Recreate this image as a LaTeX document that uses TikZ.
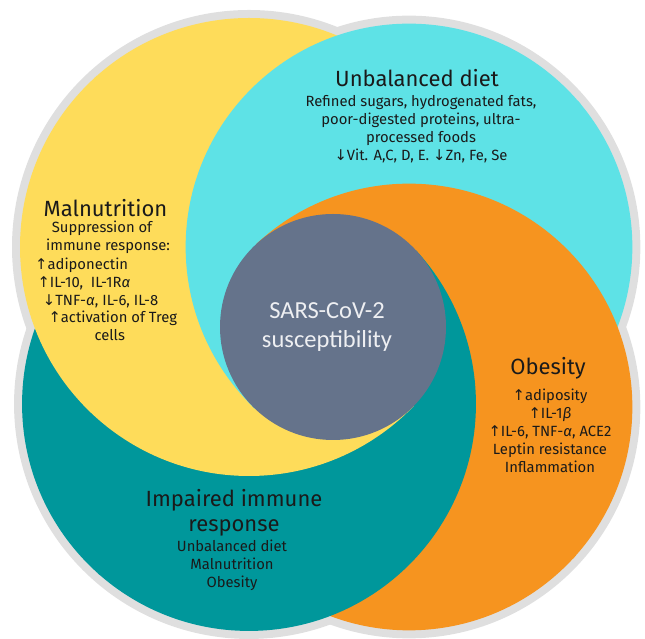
\documentclass[tikz,border=0pt]{standalone}
\usepackage{fontspec}
\setmainfont{Fira Sans}
\newfontfamily\corefont{Carlito}
\newfontfamily\arrowfont{DejaVu Sans}

\definecolor{yelcol}{HTML}{FEDC5A}
\definecolor{cyancol}{HTML}{5EE2E6}
\definecolor{oracol}{HTML}{F6941F}
\definecolor{tealcol}{HTML}{00979B}
\definecolor{corecol}{HTML}{65738B}
\definecolor{ringcol}{HTML}{DFDFDF}
\definecolor{txtcol}{HTML}{1A1A1A}
\definecolor{coretxt}{HTML}{EEEFF2}

\newcommand{\uarr}{{\arrowfont ↑}}
\newcommand{\darr}{{\arrowfont ↓}}

% the four circles
\newcommand{\yelc}{\fill[yelcol] (249,392) circle[radius=229];}
\newcommand{\cyanc}{\fill[cyancol] (409,392) circle[radius=223.35];}
\newcommand{\orac}{\fill[oracol] (409,232) circle[radius=223.35];}
\newcommand{\tealc}{\fill[tealcol] (249,235) circle[radius=226.95];}

% one sector of the pinwheel, circles from bottom to top
\newcommand{\pinwedge}[6]{%
	\begin{scope}
		\clip (333,312) -- +(#1-0.3:1000) -- +({(#1+#2)/2}:1400) -- +(#2+0.3:1000) -- cycle;
		\begin{scope}[transparency group]
			#3#4#5#6
		\end{scope}
	\end{scope}}

\tikzset{
	headtext/.style={font=\fontsize{22}{24.5}\selectfont, text=txtcol, inner sep=0pt, align=center},
	bodytext/.style={font=\fontsize{14.8}{18}\selectfont, text=txtcol, inner sep=0pt, align=center},
	linetext/.style={bodytext, anchor=west, text height=10pt, text depth=3pt},
	coretext/.style={font=\corefont\fontsize{24.5}{29}\selectfont, text=coretxt, align=center}
}

\begin{document}
\begin{tikzpicture}[x=1pt, y=1pt]
	\useasboundingbox (0,0) rectangle (645,639);
	
	% grey rim
	\fill[ringcol] (249,392) circle[radius=237];
	\fill[ringcol] (409,392) circle[radius=231.35];
	\fill[ringcol] (409,232) circle[radius=231.35];
	\fill[ringcol] (249,235) circle[radius=234.95];
	
	\pinwedge{42.5}{133.53}{\tealc}{\yelc}{\cyanc}{\orac}
	\pinwedge{133.53}{226.47}{\orac}{\tealc}{\yelc}{\cyanc}
	\pinwedge{226.47}{316.4}{\cyanc}{\orac}{\tealc}{\yelc}
	\pinwedge{316.4}{402.5}{\yelc}{\cyanc}{\orac}{\tealc}
	
	\fill[corecol] (333,312) circle[radius=113];
	\node[coretext] (core) at (327,311.6) {SARS-CoV-2\\susceptibility};
	
	% Unbalanced diet
	\node[headtext] (diethead) at (417,560.5) {Unbalanced diet};
	\node[bodytext] (dietbody) at (421,510.3) {Refined sugars, hydrogenated fats,\\poor-digested proteins, ultra-\\processed foods\\\darr Vit. A,C, D, E. \darr Zn, Fe, Se};
	
	% Malnutrition
	\node[headtext, anchor=west] (malhead) at (43.5,431) {Malnutrition};
	\node[linetext] (mal1) at (51.7,410) {Suppression of};
	\node[linetext] (mal2) at (46,391.7) {immune response:};
	\node[linetext] (mal3) at (35,373.3) {\uarr adiponectin};
	\node[linetext] (mal4) at (37.3,354.7) {\uarr IL-10,\ \ IL-1R\textit{α}};
	\node[linetext] (mal5) at (42.7,337) {\darr TNF-\textit{α}, IL-6, IL-8};
	\node[linetext] (mal6) at (48.3,319.7) {\uarr activation of Treg};
	\node[linetext] (mal7) at (94.3,302.3) {cells};
	
	% Obesity
	\node[headtext] (obehead) at (548,270.7) {Obesity};
	\node[bodytext] (obebody) at (550,207.7) {\uarr adiposity\\\uarr IL-1\textit{β}\\\uarr IL-6, TNF-\textit{α}, ACE2\\Leptin resistance\\Inflammation};
	
	% Impaired immune response
	\node[headtext] (imphead) at (234,126.1) {Impaired immune\\response};
	\node[bodytext] (impbody) at (232,74) {Unbalanced diet\\Malnutrition\\Obesity};
	
\end{tikzpicture}
\end{document}
